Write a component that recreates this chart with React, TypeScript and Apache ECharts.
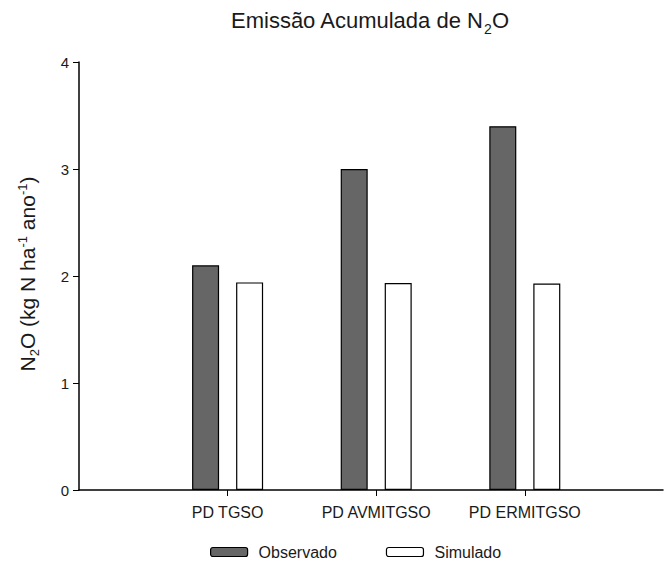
import React, { useEffect, useRef } from "react";
import * as echarts from "echarts";

// Treatment groups placed at x = 1, 2, 3 on a numeric axis
const categories = ["PD TGSO", "PD AVMITGSO", "PD ERMITGSO"];
const observado = [2.1, 3.0, 3.4];
const simulado = [1.94, 1.935, 1.93];
const yTicks = [0, 1, 2, 3, 4];

const FONT = "'Liberation Sans', Arial, sans-serif";
const INK = "#1a1a1a";

// A run of text made of pieces with their own size and baseline shift (+ = down),
// used for the sub/superscripts in the title and the y-axis name.
type Piece = { text: string; size: number; shift: number };

const titlePieces: Piece[] = [
  { text: "Emissão Acumulada de N", size: 22, shift: 0 },
  { text: "2", size: 14, shift: 5 },
  { text: "O", size: 22, shift: 0 },
];

const yNamePieces: Piece[] = [
  { text: "N", size: 21, shift: 0 },
  { text: "2", size: 13, shift: 4 },
  { text: "O (kg N ha", size: 21, shift: 0 },
  { text: "-1", size: 13, shift: -8 },
  { text: " ano", size: 21, shift: 0 },
  { text: "-1", size: 13, shift: -8 },
  { text: ")", size: 21, shift: 0 },
];

function measureWidth(ctx: CanvasRenderingContext2D | null, text: string, size: number) {
  if (!ctx) return text.length * size * 0.55;
  ctx.font = `${size}px ${FONT}`;
  return ctx.measureText(text).width;
}

function textRun(pieces: Piece[]) {
  const ctx = document.createElement("canvas").getContext("2d");
  const widths = pieces.map((p) => measureWidth(ctx, p.text, p.size));
  const total = widths.reduce((a, b) => a + b, 0);
  let x = -total / 2;
  return pieces.map((p, i) => {
    const el = {
      type: "text",
      x,
      // glyphs are placed by their centre; the baseline sits ~0.35em below it
      y: p.shift - 0.35 * p.size,
      style: {
        text: p.text,
        fontSize: p.size,
        fontFamily: FONT,
        fill: INK,
        align: "left",
        verticalAlign: "middle",
        textAlign: "left",
        textVerticalAlign: "middle",
      },
    };
    x += widths[i];
    return el;
  });
}

export default function App() {
  const ref = useRef<HTMLDivElement>(null);

  useEffect(() => {
    if (!ref.current) return;
    const chart = echarts.init(ref.current, null, { renderer: "svg" });
    const toPoints = (vals: number[]) => vals.map((v, i) => [i + 1, v]);

    chart.setOption({
      animation: false,
      backgroundColor: "#fff",
      textStyle: { fontFamily: FONT },
      graphic: {
        elements: [
          { type: "group", x: 370, y: 28.5, children: textRun(titlePieces) },
          { type: "group", x: 35, y: 274, rotation: Math.PI / 2, children: textRun(yNamePieces) },
        ],
      },
      legend: {
        left: 210,
        top: 544,
        padding: 0,
        itemWidth: 37,
        itemHeight: 9,
        itemGap: 49,
        textStyle: { fontSize: 16, color: INK, fontFamily: FONT, padding: [0, 0, 0, 6] },
        data: [
          { name: "Observado", itemStyle: { color: "#666666", borderColor: "#000", borderWidth: 1.2 } },
          { name: "Simulado", itemStyle: { color: "#ffffff", borderColor: "#000", borderWidth: 1.2 } },
        ],
      },
      grid: { left: 79, right: 1, top: 62, bottom: 73 },
      xAxis: {
        type: "value",
        min: 0,
        max: 3.93,
        interval: 1,
        splitLine: { show: false },
        axisLine: { show: true, lineStyle: { color: "#000", width: 1.5 } },
        axisTick: { show: true, length: 6, customValues: [1, 2, 3], lineStyle: { color: "#000" } },
        axisLabel: {
          customValues: [1, 2, 3],
          margin: 14,
          fontSize: 16,
          color: INK,
          fontFamily: FONT,
          formatter: (v: number) => categories[Math.round(v) - 1] ?? "",
        },
      },
      yAxis: {
        type: "value",
        min: yTicks[0],
        max: yTicks[yTicks.length - 1],
        interval: 1,
        splitLine: { show: false },
        axisLine: { show: true, lineStyle: { color: "#000", width: 1.5 } },
        axisTick: { show: true, length: 6, lineStyle: { color: "#000" } },
        axisLabel: { fontSize: 15, color: INK, margin: 10, fontFamily: FONT },
      },
      series: [
        {
          name: "Observado",
          type: "bar",
          barWidth: 27,
          barGap: "63%",
          data: toPoints(observado),
          itemStyle: { color: "#666666", borderColor: "#000", borderWidth: 1.2 },
        },
        {
          name: "Simulado",
          type: "bar",
          barWidth: 27,
          barGap: "63%",
          data: toPoints(simulado),
          itemStyle: { color: "#ffffff", borderColor: "#000", borderWidth: 1.2 },
        },
      ],
    });

    return () => chart.dispose();
  }, []);

  return <div ref={ref} style={{ width: 664, height: 563, position: "absolute", left: 0, top: 0 }} />;
}
